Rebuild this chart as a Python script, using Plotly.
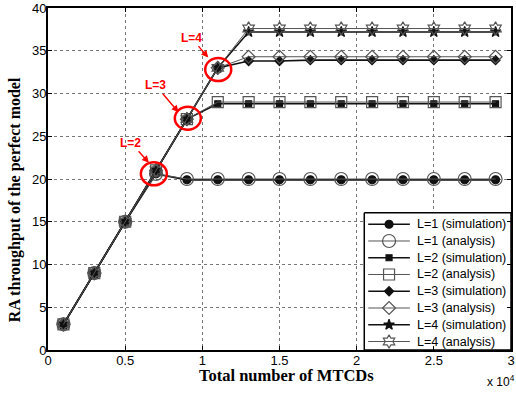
import plotly.graph_objects as go

# Total number of MTCDs (in units of 10^4)
mtcds = [0.1, 0.3, 0.5, 0.7, 0.9, 1.1, 1.3, 1.5, 1.7, 1.9, 2.1, 2.3, 2.5, 2.7, 2.9]

# RA throughput, simulation vs analysis, for each number of preamble transmissions L
l1_sim = [3.0, 9.0, 15.0, 20.6, 19.9, 19.9, 19.9, 19.9, 19.9, 19.9, 19.9, 19.9, 19.9, 19.9, 19.9]
l1_ana = [3.0, 9.0, 15.0, 20.6, 20.0, 20.0, 20.0, 20.0, 20.0, 20.0, 20.0, 20.0, 20.0, 20.0, 20.0]
l2_sim = [3.0, 9.0, 15.0, 21.0, 27.0, 28.8, 28.8, 28.8, 28.8, 28.8, 28.8, 28.8, 28.8, 28.8, 28.8]
l2_ana = [3.0, 9.0, 15.0, 21.0, 27.0, 29.0, 29.0, 29.0, 29.0, 29.0, 29.0, 29.0, 29.0, 29.0, 29.0]
l3_sim = [3.0, 9.0, 15.0, 21.0, 27.0, 33.0, 33.8, 33.8, 33.9, 33.9, 33.9, 33.9, 33.9, 33.9, 33.9]
l3_ana = [3.0, 9.0, 15.0, 21.0, 27.0, 33.0, 34.3, 34.3, 34.3, 34.3, 34.3, 34.3, 34.3, 34.3, 34.3]
l4_sim = [3.0, 9.0, 15.0, 21.0, 27.0, 33.0, 37.2, 37.2, 37.2, 37.2, 37.2, 37.2, 37.2, 37.2, 37.2]
l4_ana = [3.0, 9.0, 15.0, 21.0, 27.0, 33.0, 37.6, 37.6, 37.6, 37.6, 37.6, 37.6, 37.6, 37.6, 37.6]

x_ticks = [0, 0.5, 1, 1.5, 2, 2.5, 3]
x_tick_text = ["0", "0.5", "1", "1.5", "2", "2.5", "3"]
y_ticks = [0, 5, 10, 15, 20, 25, 30, 35, 40]

# (label, circle center x, y, arrow tip x, y, text offset ax, ay)
callouts = [
    ("L=2", 0.686, 20.6, 0.654, 21.9, -18, -20),
    ("L=3", 0.906, 27.1, 0.846, 27.8, -23, -27),
    ("L=4", 1.103, 32.8, 1.038, 34.2, -17, -20),
]

SIM_COLOR = "#111111"
ANA_COLOR = "#555555"
SANS = "Liberation Sans, Arial"
SERIF = "Liberation Serif, Times New Roman"

series = [
    ("L=1 (simulation)", l1_sim, SIM_COLOR, "circle", 8, 1.6),
    ("L=1 (analysis)", l1_ana, ANA_COLOR, "circle-open", 13, 1.0),
    ("L=2 (simulation)", l2_sim, SIM_COLOR, "square", 6, 1.6),
    ("L=2 (analysis)", l2_ana, ANA_COLOR, "square-open", 11, 1.0),
    ("L=3 (simulation)", l3_sim, SIM_COLOR, "diamond", 7, 1.6),
    ("L=3 (analysis)", l3_ana, ANA_COLOR, "diamond-open", 10, 1.0),
    ("L=4 (simulation)", l4_sim, SIM_COLOR, "star", 8, 1.6),
    ("L=4 (analysis)", l4_ana, ANA_COLOR, "hexagram-open", 10, 1.0),
]

# Figure geometry (pixels)
W, H = 516, 394
ML, MR, MT, MB = 48, 1, 6, 44
PX0, PX1 = ML, W - MR
PY0, PY1 = MT, H - MB


def paper_x(px):
    return (px - PX0) / (PX1 - PX0)


def paper_y(py):
    return (PY1 - py) / (PY1 - PY0)


fig = go.Figure()
for name, ys, color, symbol, size, width in series:
    fig.add_trace(go.Scatter(
        x=mtcds, y=ys, name=name, mode="lines+markers", showlegend=False,
        line=dict(color=color, width=width),
        marker=dict(symbol=symbol, size=size, color=color,
                    line=dict(color=color, width=1.2)),
    ))

# Legend drawn on a pixel-unit overlay axis so the row spacing is compact
LEG_X0, LEG_X1 = 367, 515
LEG_Y0, LEG_Y1 = 212, 350
ROW0, ROW_STEP = 223.5, 16.85
SEG_X0, SEG_X1 = 371, 413
TEXT_X = 418

annotations = []
fig.add_trace(go.Scatter(
    x=[LEG_X0, LEG_X1, LEG_X1, LEG_X0, LEG_X0],
    y=[LEG_Y0, LEG_Y0, LEG_Y1, LEG_Y1, LEG_Y0],
    xaxis="x2", yaxis="y2", mode="lines", fill="toself",
    fillcolor="#ffffff", line=dict(color="#000000", width=1.5),
    showlegend=False, hoverinfo="skip", cliponaxis=False,
))

for i, (name, ys, color, symbol, size, width) in enumerate(series):
    yrow = ROW0 + i * ROW_STEP
    fig.add_trace(go.Scatter(
        x=[SEG_X0, SEG_X1], y=[yrow, yrow], xaxis="x2", yaxis="y2",
        mode="lines", showlegend=False, hoverinfo="skip",
        line=dict(color=color, width=width),
    ))
    fig.add_trace(go.Scatter(
        x=[(SEG_X0 + SEG_X1) / 2], y=[yrow], xaxis="x2", yaxis="y2",
        mode="markers", showlegend=False, hoverinfo="skip",
        marker=dict(symbol=symbol, size=size, color=color,
                    line=dict(color=color, width=1.2)),
    ))
    annotations.append(dict(
        x=TEXT_X, y=yrow, xref="x2", yref="y2", text=name,
        xanchor="left", yanchor="middle", showarrow=False,
        font=dict(family=SANS, size=12.5, color="#000000"),
    ))

shapes = []
for label, cx, cy, tx, ty, ax, ay in callouts:
    shapes.append(dict(
        type="circle", xref="x", yref="y",
        xsizemode="pixel", ysizemode="pixel",
        xanchor=cx, yanchor=cy,
        x0=-13, x1=13, y0=-11.5, y1=11.5,
        line=dict(color="#ff0000", width=2.5),
    ))
    annotations.append(dict(
        x=tx, y=ty, xref="x", yref="y", text=label,
        showarrow=True, ax=ax, ay=ay,
        arrowhead=2, arrowsize=1, arrowwidth=1.4, arrowcolor="#ff0000",
        font=dict(family=SANS, size=12, color="#ff0000", weight="bold"),
    ))

# Axis titles and exponent label
annotations.append(dict(
    x=paper_x(289), y=paper_y(376), xref="paper", yref="paper",
    text="<b>Total number of MTCDs</b>",
    showarrow=False, xanchor="center", yanchor="middle",
    font=dict(family=SERIF, size=16.5, color="#000000"),
))
annotations.append(dict(
    x=paper_x(15), y=paper_y(199), xref="paper", yref="paper",
    text="<b>RA throughput of the perfect model</b>",
    showarrow=False, xanchor="center", yanchor="middle", textangle=-90,
    font=dict(family=SERIF, size=16, color="#000000"),
))
annotations.append(dict(
    x=paper_x(489), y=paper_y(381), xref="paper", yref="paper",
    text="x 10<sup>4</sup>",
    showarrow=False, xanchor="left", yanchor="middle",
    font=dict(family=SANS, size=12, color="#000000"),
))

axis_common = dict(
    showline=True, linecolor="#000000", linewidth=2, mirror="ticks",
    ticks="inside", ticklen=4, tickcolor="#000000", tickwidth=1,
    showgrid=True, gridcolor="#777777", griddash="dot", gridwidth=1,
    zeroline=False, ticklabeloverflow="allow", ticklabelstandoff=-3,
    tickfont=dict(family=SANS, size=13, color="#000000"),
)

fig.update_layout(
    width=W, height=H,
    margin=dict(l=ML, r=MR, t=MT, b=MB),
    paper_bgcolor="#ffffff", plot_bgcolor="#ffffff",
    shapes=shapes, annotations=annotations,
    showlegend=False,
    xaxis=dict(range=[0, 3], tickvals=x_ticks, ticktext=x_tick_text, **axis_common),
    yaxis=dict(range=[0, 40], tickvals=y_ticks, **axis_common),
    xaxis2=dict(range=[PX0, PX1], overlaying="x", visible=False, fixedrange=True),
    yaxis2=dict(range=[PY1, PY0], overlaying="y", visible=False, fixedrange=True),
)

fig.write_html("out.html")
